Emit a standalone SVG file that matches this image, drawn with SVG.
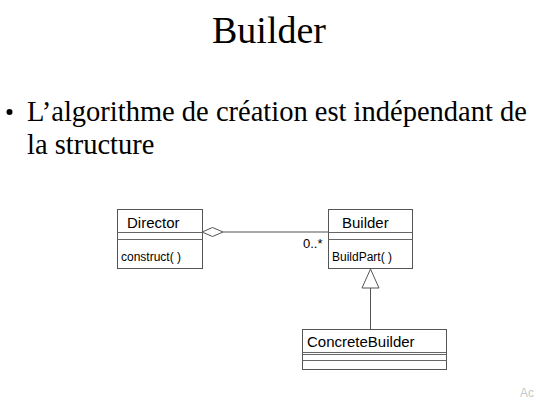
<svg xmlns="http://www.w3.org/2000/svg" width="536" height="400" viewBox="0 0 536 400">
<style>
.serif{font-family:'Liberation Serif','DejaVu Serif',serif;fill:#000}
.sans{font-family:'Liberation Sans','DejaVu Sans',sans-serif;fill:#000}
.box{fill:#fff;stroke:#555;stroke-width:1}
.div{stroke:#666;stroke-width:1}
.conn{stroke:#555;stroke-width:1;fill:none}
</style>
<rect width="536" height="400" fill="#fff"/>
<text class="serif" x="269" y="43" font-size="38" text-anchor="middle">Builder</text>
<circle cx="9.5" cy="112" r="3" fill="#000"/>
<text class="serif" x="27" y="121" font-size="28.5">L’algorithme de création est indépendant de</text>
<text class="serif" x="27" y="154" font-size="28.5">la structure</text>
<g id="connectors">
<line class="conn" x1="223" y1="232" x2="328" y2="232"/>
<polygon class="conn" points="202,232 212.5,227.5 223,232 212.5,236.5" style="fill:#fff"/>
<line class="conn" x1="370.5" y1="288" x2="370.5" y2="329"/>
<polygon class="conn" points="370.5,269 362,288 379,288" style="fill:#fff"/>
<text class="sans" x="303" y="248" font-size="13">0..*</text>
</g>
<g id="director">
<rect class="box" x="117.5" y="209.5" width="85" height="59"/>
<line class="div" x1="117.5" y1="232.5" x2="202.5" y2="232.5"/>
<line class="div" x1="117.5" y1="239.5" x2="202.5" y2="239.5"/>
<text class="sans" x="127" y="228" font-size="15">Director</text>
<text class="sans" x="121" y="261" font-size="12">construct( )</text>
</g>
<g id="builder">
<rect class="box" x="328.5" y="209.5" width="84" height="59"/>
<line class="div" x1="328.5" y1="232.5" x2="412.5" y2="232.5"/>
<line class="div" x1="328.5" y1="239.5" x2="412.5" y2="239.5"/>
<text class="sans" x="342" y="228" font-size="15">Builder</text>
<text class="sans" x="332" y="261" font-size="12">BuildPart( )</text>
</g>
<g id="concretebuilder">
<rect class="box" x="302.5" y="329.5" width="144" height="40"/>
<line class="div" x1="302.5" y1="352.5" x2="446.5" y2="352.5"/>
<line class="div" x1="302.5" y1="354.5" x2="446.5" y2="354.5" stroke="#aaa"/>
<line class="div" x1="302.5" y1="360.5" x2="446.5" y2="360.5"/>
<text class="sans" x="307" y="347" font-size="15">ConcreteBuilder</text>
</g>
<text class="sans" x="520" y="397" font-size="12" style="fill:#c8c8c8">Ac</text>
</svg>
